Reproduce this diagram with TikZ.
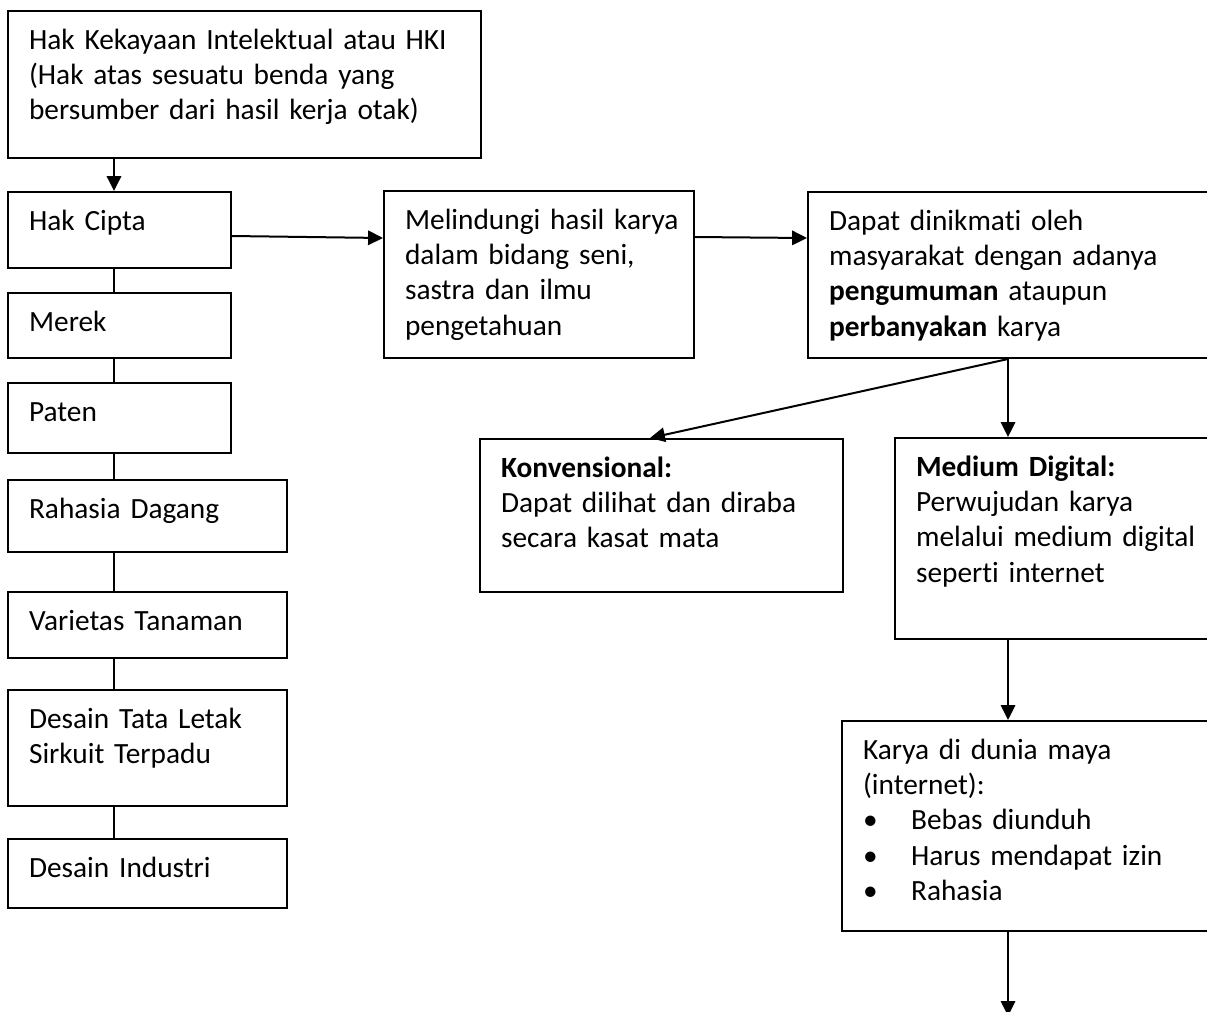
\documentclass[tikz,border=0pt]{standalone}
\usepackage{fontspec}
\setmainfont{Carlito}[WordSpace=0.75,Ligatures=NoCommon]
\usetikzlibrary{arrows.meta,calc}

\tikzset{
  box/.style={draw,line width=0.75pt,anchor=north west,inner xsep=0pt,inner ysep=0pt,
    align=left,text height=14.25pt,font=\fontsize{11}{13.3}\selectfont,
    execute at begin node={\leftskip=7.9pt\relax\hyphenpenalty=10000\relax}},
  link/.style={line width=0.75pt},
  arr/.style={line width=0.75pt,-{Triangle[length=5.6pt,width=5.4pt]}}
}

\begin{document}
\begin{tikzpicture}[x=0.375pt,y=-0.375pt]
        \useasboundingbox (0,0) rectangle (1207,1011);
        \clip (0,0) rectangle (1207,1011);
        \node[box,text width=177.4pt,text depth=40.9pt] (hki) at (7,10) {Hak Kekayaan Intelektual atau HKI\\(Hak atas sesuatu benda yang\\bersumber dari hasil kerja otak)};
        \node[box,text width=83.6pt,text depth=14.25pt] (cipta) at (7,191) {Hak Cipta};
        \node[box,text width=83.6pt,text depth=10.1pt] (merek) at (7,292) {Merek};
        \node[box,text width=83.6pt,text depth=12pt] (paten) at (7,382) {Paten};
        \node[box,text width=104.6pt,text depth=12.75pt] (rahasia) at (7,479) {Rahasia Dagang};
        \node[box,text width=104.6pt,text depth=10.5pt] (varietas) at (7,591) {Varietas Tanaman};
        \node[box,text width=104.6pt,text depth=29.25pt] (tataletak) at (7,689) {Desain Tata Letak\\Sirkuit Terpadu};
        \node[box,text width=104.6pt,text depth=11.6pt] (industri) at (7,838) {Desain Industri};
        \node[box,text width=116.3pt,text depth=48.4pt] (lindung) at (383,190) {Melindungi hasil karya\\dalam bidang seni,\\sastra dan ilmu\\pengetahuan};
        \node[box,text width=151.9pt,text depth=48pt] (nikmat) at (807,191) {Dapat dinikmati oleh\\masyarakat dengan adanya\\\textbf{pengumuman} ataupun\\\textbf{perbanyakan} karya};
        \node[box,text width=136.1pt,text depth=43.1pt] (konv) at (479,438) {\textbf{Konvensional:}\\Dapat dilihat dan diraba\\secara kasat mata};
        \node[box,text width=119.3pt,text depth=61.1pt] (digital) at (894,437) {\textbf{Medium Digital:}\\Perwujudan karya\\melalui medium digital\\seperti internet};
        \node[box,text width=139.1pt,text depth=64.5pt] (maya) at (841,720) {Karya di dunia maya\\(internet):\\\makebox[18pt][l]{\textbullet}Bebas diunduh\\\makebox[18pt][l]{\textbullet}Harus mendapat izin\\\makebox[18pt][l]{\textbullet}Rahasia};
        \coordinate (spine) at (114,0);
        \coordinate (drop) at (1008,0);
        \coordinate (lanjut) at (1008,1016);
        \draw[arr] (spine |- hki.south) -- (spine |- cipta.north);
        \foreach \a/\b in {cipta/merek,merek/paten,paten/rahasia,rahasia/varietas,varietas/tataletak,tataletak/industri}
            \draw[link] (spine |- \a.south) -- (spine |- \b.north);
        \draw[arr] ($(cipta.north east)+(0,45)$) -- ($(lindung.north west)+(0,48)$);
        \draw[arr] ($(lindung.north east)+(0,47)$) -- ($(nikmat.north west)+(0,47)$);
        \draw[arr] (drop |- nikmat.south) -- ($(konv.north west)+(171,0)$);
        \draw[arr] (drop |- nikmat.south) -- (drop |- digital.north);
        \draw[arr] (drop |- digital.south) -- (drop |- maya.north);
        \draw[arr] (drop |- maya.south) -- (lanjut);
\end{tikzpicture}
\end{document}
